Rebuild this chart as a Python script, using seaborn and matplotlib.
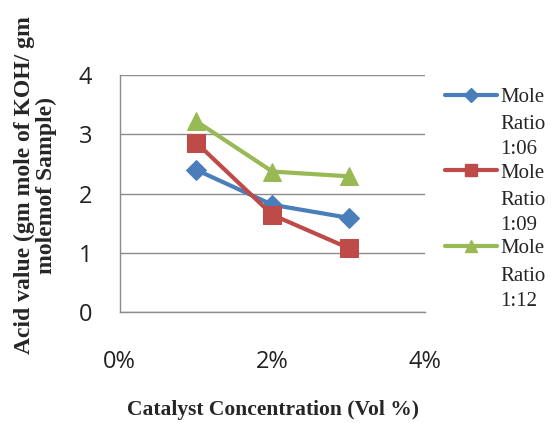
import matplotlib
matplotlib.use("Agg")
import matplotlib.pyplot as plt
import seaborn as sns
import pandas as pd

# Catalyst concentration (vol %) and acid value per mole ratio
concentration = [1, 2, 3]
ratio_labels = ["1:06", "1:09", "1:12"]
acid_1_06 = [2.40, 1.81, 1.59]
acid_1_09 = [2.86, 1.64, 1.08]
acid_1_12 = [3.22, 2.37, 2.29]

x_ticks = [0, 2, 4]
x_ticklabels = ["0%", "2%", "4%"]
y_ticks = [0, 1, 2, 3, 4]

rows = []
for label, vals in zip(ratio_labels, [acid_1_06, acid_1_09, acid_1_12]):
    for c, v in zip(concentration, vals):
        rows.append({"conc": c, "acid": v, "ratio": label})
df = pd.DataFrame(rows)

sns.set_style("white")
plt.rcParams["font.family"] = ["Open Sans", "DejaVu Sans"]

colors = {"1:06": "#4A7EBB", "1:09": "#BE4B48", "1:12": "#98B954"}
markers = {"1:06": "D", "1:09": "s", "1:12": "^"}
msizes = {"1:06": 10, "1:09": 13, "1:12": 13}

fig = plt.figure(figsize=(5.52, 4.23), dpi=100)
ax = fig.add_axes([0.217, 0.262, 0.553, 0.561])

for label in ratio_labels:
    sub = df[df["ratio"] == label]
    sns.lineplot(data=sub, x="conc", y="acid", ax=ax, color=colors[label],
                 marker=markers[label], markersize=msizes[label],
                 markeredgecolor=colors[label], linewidth=3,
                 label=label, legend=False, zorder=3)

ax.set_xlim(0, 4)
ax.set_ylim(0, 4)
ax.set_xticks(x_ticks)
ax.set_xticklabels(x_ticklabels)
ax.set_yticks(y_ticks)
ax.yaxis.grid(True, color="#8C8C8C", linewidth=1)
ax.xaxis.grid(False)
for side in ["top", "right"]:
    ax.spines[side].set_visible(False)
for side in ["left", "bottom"]:
    ax.spines[side].set_color("#8C8C8C")
    ax.spines[side].set_linewidth(1)
ax.tick_params(axis="both", which="major", direction="out", length=7,
               width=1, color="#8C8C8C", labelsize=17, labelcolor="#222222")
ax.tick_params(axis="x", pad=20)
ax.tick_params(axis="y", pad=13)

ax.set_xlabel("")
ax.set_ylabel("")
fig.text(0.495, 0.031, "Catalyst Concentration (Vol %)", ha="center", va="center",
         family="Liberation Serif", fontweight="bold", fontsize=15.5)
fig.text(0.064, 0.562, "Acid value (gm mole of KOH/ gm\nmolemof Sample)",
         ha="center", va="center", rotation=90, family="Liberation Serif",
         fontweight="bold", fontsize=17, linespacing=1.05)

# legend: marker beside "Mole", with the rest of each label stacked below
handles = [plt.Line2D([], [], color=colors[l], marker=markers[l],
                      markersize=msizes[l] * 0.7, linewidth=3)
           for l in ratio_labels]
leg = ax.legend(handles, ["Mole"] * 3, loc="upper left",
                bbox_to_anchor=(1.065, 0.948), frameon=False,
                prop={"family": "Liberation Serif", "size": 15},
                handlelength=2.5, handletextpad=0.15, labelspacing=2.7,
                borderaxespad=0, borderpad=0)
leg.set_zorder(5)
for txt, l in zip(leg.get_texts(), ratio_labels):
    ax.annotate("Ratio\n" + l, xy=(0, 0), xycoords=txt, xytext=(0, -6),
                textcoords="offset points", ha="left", va="top",
                family="Liberation Serif", fontsize=15, linespacing=1.45,
                zorder=10, annotation_clip=False)

fig.savefig("out.png", dpi=100)
